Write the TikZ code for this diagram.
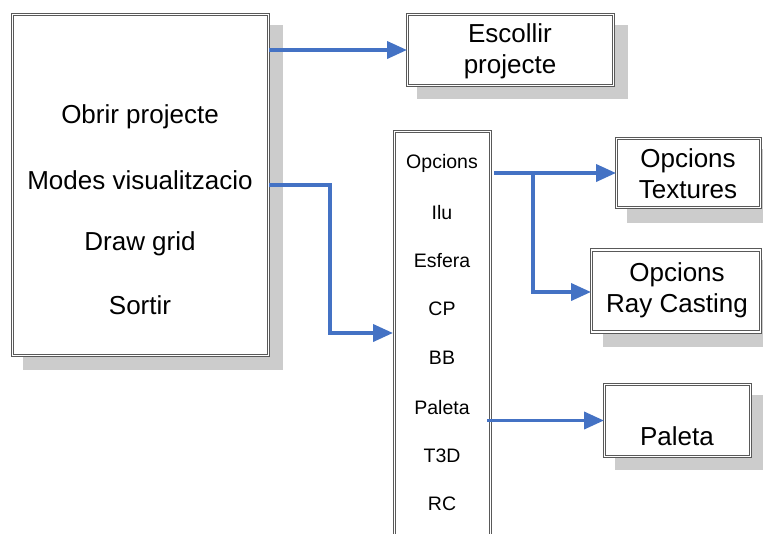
\documentclass[tikz,border=0pt]{standalone}
\usepackage{fontspec}
\setmainfont{Liberation Sans}
\usetikzlibrary{arrows.meta}
\definecolor{arrowblue}{RGB}{68,114,196}
\definecolor{shadowgray}{RGB}{204,204,204}
\begin{document}
\begin{tikzpicture}[x=1pt,y=-1pt,
  box/.style={draw=black!65, double=white, double distance=1.2pt, line width=1pt, inner sep=0pt},
  conn/.style={draw=arrowblue, line width=3.8pt, -{Triangle[length=20pt,width=17pt]}},
  big/.style={font=\fontsize{26}{31}\selectfont, align=center, inner sep=0pt},
  small/.style={font=\fontsize{19.5}{24}\selectfont, inner sep=0pt}]
\useasboundingbox (0,0) rectangle (763,533);
\fill[white] (0,0) rectangle (763,533);
% shadows
\fill[shadowgray] (23,25) rectangle (283,370);
\fill[shadowgray] (417,25) rectangle (628,99);
\fill[shadowgray] (627,149) rectangle (780,223);
\fill[shadowgray] (603,260) rectangle (780,347);
\fill[shadowgray] (615,395) rectangle (780,470);
% boxes
\node[box, fill=white, minimum width=256pt, minimum height=341.5pt] (main) at (140.5,185) {};
\node[box, fill=white, minimum width=206pt, minimum height=71pt] (esc) at (510.5,50) {};
\node[box, fill=white, minimum width=96pt, minimum height=500pt] (list) at (442.5,381.5) {};
\node[box, fill=white, minimum width=144pt, minimum height=69pt] (tex) at (688.5,173) {};
\node[box, fill=white, minimum width=169pt, minimum height=82pt] (ray) at (676,291) {};
\node[box, fill=white, minimum width=146pt, minimum height=72pt] (pal) at (677.5,420.5) {};
% texts
\node[big] (t1) at (140,117) {Obrir projecte};
\node[big] (t2) at (140,180) {Modes visualitzacio};
\node[big] (t3) at (140,244) {Draw grid};
\node[big] (t4) at (140,305) {Sortir};
\node[big] (tesc) at (510,51) {Escollir\\projecte};
\node[big] (ttex) at (688,173.5) {Opcions\\Textures};
\node[big] (tray) at (677,290) {Opcions\\Ray Casting};
\node[big] (tpal) at (677,436) {Paleta};
\node[small] (l1) at (442,163) {Opcions};
\node[small] (l2) at (442,213) {Ilu};
\node[small] (l3) at (442,261) {Esfera};
\node[small] (l4) at (442,309) {CP};
\node[small] (l5) at (442,358) {BB};
\node[small] (l6) at (442,408) {Paleta};
\node[small] (l7) at (442,456) {T3D};
\node[small] (l8) at (442,504) {RC};
% connectors
\coordinate (b1) at (330,185);
\coordinate (b2) at (533,173);
\coordinate (lin) at (393,333);
\draw[conn] (main.east |- esc.west) -- (esc.west);
\draw[conn] (main.east) -- (b1) |- (lin);
\draw[conn] ([xshift=3pt]list.east |- tex.west) -- (tex.west);
\draw[conn] (b2) |- (ray.west |- 0,292);
\draw[conn] ([xshift=-4pt]list.east |- pal.west) -- (pal.west);
\end{tikzpicture}
\end{document}
